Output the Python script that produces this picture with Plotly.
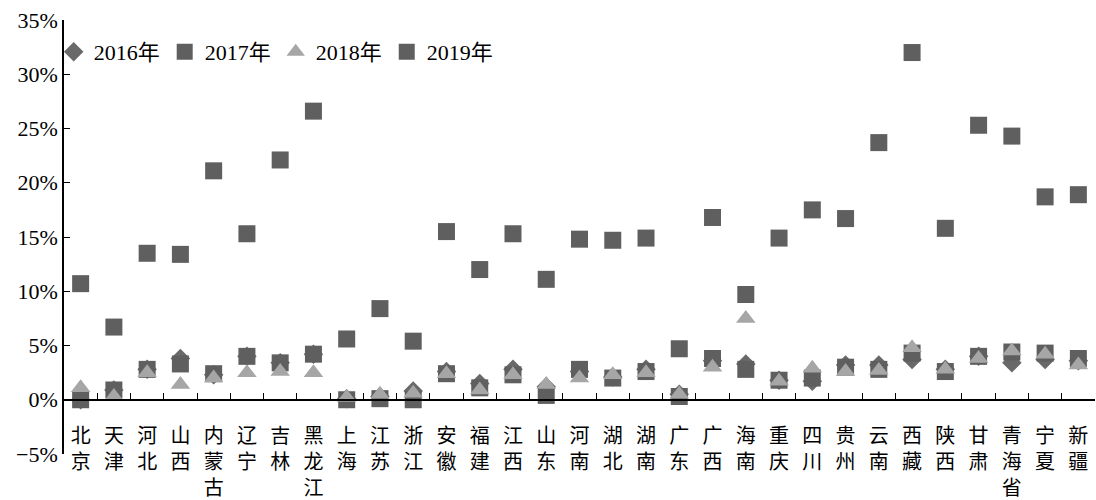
import plotly.graph_objects as go

provinces = ["北京", "天津", "河北", "山西", "内蒙古", "辽宁", "吉林", "黑龙江", "上海", "江苏",
             "浙江", "安徽", "福建", "江西", "山东", "河南", "湖北", "湖南", "广东", "广西",
             "海南", "重庆", "四川", "贵州", "云南", "西藏", "陕西", "甘肃", "青海省", "宁夏", "新疆"]

v2016 = [0.0, 0.9, 2.8, 3.8, 2.3, 4.0, 3.4, 4.2, 0.1, 0.3,
         0.8, 2.6, 1.5, 2.8, 1.2, 2.6, 2.1, 2.8, 0.5, 3.6,
         3.3, 1.8, 1.7, 3.2, 3.2, 3.7, 2.8, 4.0, 3.4, 3.7, 3.6]
v2017 = [0.0, 0.9, 2.8, 3.3, 2.4, 4.0, 3.4, 4.2, 0.0, 0.1,
         0.0, 2.4, 1.1, 2.3, 0.4, 2.8, 2.0, 2.6, 0.3, 3.8,
         2.8, 1.8, 2.0, 3.0, 2.8, 4.3, 2.6, 4.0, 4.4, 4.3, 3.8]
v2018 = [1.1, 0.3, 2.5, 1.4, 2.0, 2.5, 2.6, 2.5, 0.2, 0.5,
         0.6, 2.4, 0.9, 2.3, 1.4, 2.0, 2.3, 2.5, 0.5, 3.0,
         7.5, 1.7, 2.9, 2.6, 2.7, 4.8, 2.8, 3.8, 4.5, 4.2, 3.2]
v2019 = [10.7, 6.7, 13.5, 13.4, 21.1, 15.3, 22.1, 26.6, 5.6, 8.4,
         5.4, 15.5, 12.0, 15.3, 11.1, 14.8, 14.7, 14.9, 4.7, 16.8,
         9.7, 14.9, 17.5, 16.7, 23.7, 32.0, 15.8, 25.3, 24.3, 18.7, 18.9]

y_ticks = [-5, 0, 5, 10, 15, 20, 25, 30, 35]
y_ticktext = [f"{t}%" if t >= 0 else f"\u2212{abs(t)}%" for t in y_ticks]

font_family = "Liberation Serif, Noto Sans CJK SC, serif"

fig = go.Figure()
fig.add_trace(go.Scatter(x=provinces, y=v2016, mode="markers", name="2016年",
                         marker=dict(symbol="diamond", size=15, color="#696969")))
fig.add_trace(go.Scatter(x=provinces, y=v2017, mode="markers", name="2017年",
                         marker=dict(symbol="square", size=17, color="#5f5f5f")))
fig.add_trace(go.Scatter(x=provinces, y=v2018, mode="markers", name="2018年",
                         marker=dict(symbol="triangle-up", size=17, color="#a6a6a6")))
fig.add_trace(go.Scatter(x=provinces, y=v2019, mode="markers", name="2019年",
                         marker=dict(symbol="square", size=17, color="#5f5f5f")))

fig.update_layout(
    width=1096, height=500,
    margin=dict(l=64, r=1, t=20, b=46, autoexpand=False),
    paper_bgcolor="white", plot_bgcolor="white",
    font=dict(family=font_family, size=22, color="black"),
    showlegend=True,
    legend=dict(orientation="h", x=-0.01, y=0.975, xanchor="left", yanchor="top",
                font=dict(size=22), bgcolor="rgba(0,0,0,0)", itemwidth=30,
                tracegroupgap=0),
    xaxis=dict(
        type="category", range=[-0.5, len(provinces) - 0.5],
        tickvals=provinces, ticktext=["<br>".join(p) for p in provinces],
        anchor="free", position=0.125, automargin=False,
        showline=True, linecolor="black", linewidth=2,
        ticks="inside", tickson="boundaries", ticklen=6, tickcolor="black",
        ticklabelstandoff=18,
        showgrid=False, zeroline=False,
        tickfont=dict(size=20),
    ),
    yaxis=dict(
        range=[-5, 35], tickvals=y_ticks, ticktext=y_ticktext, automargin=False,
        showline=True, linecolor="black", linewidth=1.5,
        ticks="inside", ticklen=6, tickcolor="black",
        showgrid=False, zeroline=False,
        tickfont=dict(size=22),
    ),
)

fig.write_html("out.html")
